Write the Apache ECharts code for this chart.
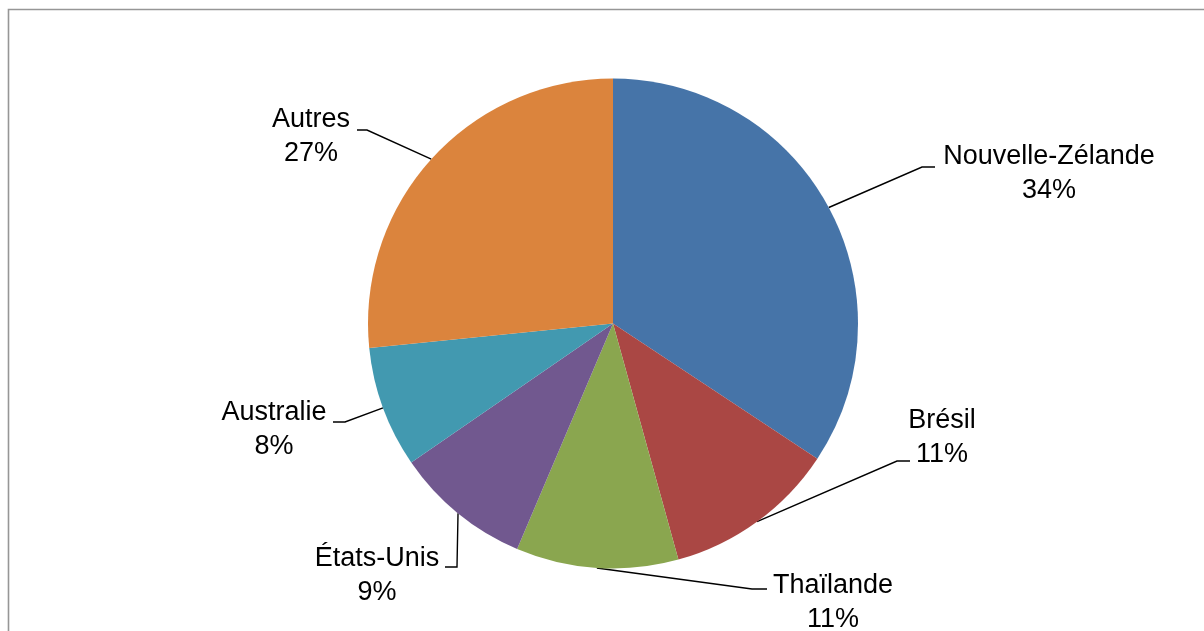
<!DOCTYPE html>
<html>
<head>
<meta charset="utf-8">
<script src="https://cdn.jsdelivr.net/npm/echarts@6/dist/echarts.min.js"></script>
<style>
  html, body { margin: 0; padding: 0; background: #fff; }
  #chart { width: 1204px; height: 631px; }
</style>
</head>
<body>
<div id="chart"></div>
<script>
var countries = ["Nouvelle-Zélande", "Brésil", "Thaïlande", "États-Unis", "Australie", "Autres"];
var shares = [34.3, 11.4, 10.7, 9.0, 8.0, 26.6];
var colors = ["#4674A8", "#AA4744", "#8AA64F", "#71588F", "#4299B0", "#DB843D"];

// placement des étiquettes (centre du bloc de texte) et coude du trait
var labelCenters = [[1049, 174], [942, 438], [833, 603], [377, 576], [274, 430], [311, 137]];
var elbows = [
  [[922, 167], [935, 167]],
  [[897, 461], [910, 461]],
  [[752, 589], [767, 589]],
  [[457, 567], [445, 567]],
  [[345, 422], [333, 422]],
  [[367, 130], [357, 130]]
];

var chart = echarts.init(document.getElementById("chart"));

var option = {
  backgroundColor: "#fff",
  animation: false,
  graphic: [
    {
      type: "rect",
      shape: { x: 8.5, y: 9.5, width: 1400, height: 800 },
      style: { fill: "none", stroke: "#969696", lineWidth: 1.6 },
      silent: true
    }
  ],
  series: [
    {
      type: "pie",
      center: [613, 323.5],
      radius: 245,
      startAngle: 90,
      clockwise: true,
      silent: true,
      emphasis: { disabled: true },
      data: countries.map(function (name, i) {
        return { name: name, value: shares[i], itemStyle: { color: colors[i] } };
      }),
      itemStyle: { borderWidth: 0 },
      label: {
        show: true,
        position: "outside",
        color: "#000",
        fontFamily: "'Liberation Sans', Arial, sans-serif",
        fontSize: 27,
        lineHeight: 34,
        formatter: function (p) {
          return p.name + "\n" + Math.round(p.percent) + "%";
        }
      },
      labelLine: {
        show: true,
        lineStyle: { color: "#000", width: 1.4 }
      },
      labelLayout: function (params) {
        var i = params.dataIndex;
        var start = params.labelLinePoints ? params.labelLinePoints[0] : elbows[i][0];
        return {
          x: labelCenters[i][0],
          y: labelCenters[i][1],
          align: "center",
          verticalAlign: "middle",
          labelLinePoints: [start, elbows[i][0], elbows[i][1]]
        };
      }
    }
  ]
};

chart.setOption(option);
</script>
</body>
</html>
